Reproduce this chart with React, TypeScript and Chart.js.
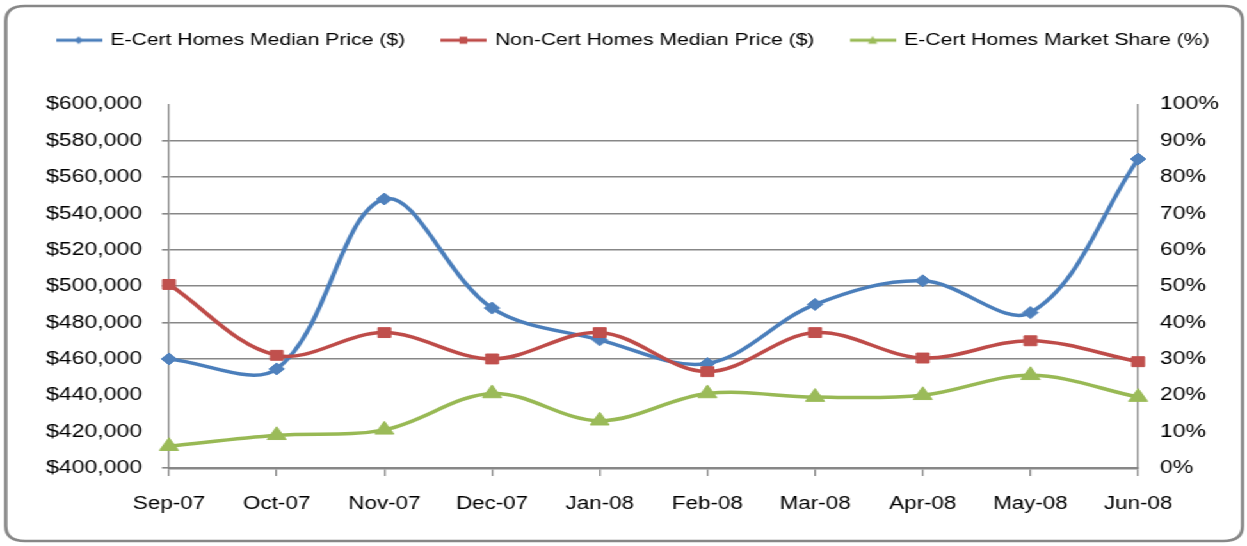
import React, { useEffect, useRef } from 'react';
import { Chart, registerables } from 'chart.js';

Chart.register(...registerables);

// ---- data ----
const categories = ['Sep-07', 'Oct-07', 'Nov-07', 'Dec-07', 'Jan-08', 'Feb-08', 'Mar-08', 'Apr-08', 'May-08', 'Jun-08'];
const eCertMedianPrice = [460000, 454500, 548000, 488000, 470500, 457500, 490000, 503000, 485500, 570000];
const nonCertMedianPrice = [501000, 462000, 474500, 460000, 474500, 453000, 474500, 460500, 470000, 458500];
const eCertMarketShare = [6, 9, 10.5, 20.5, 13, 20.5, 19.5, 20, 25.5, 19.5];
const seriesNames = ['E-Cert Homes Median Price ($)', 'Non-Cert Homes Median Price ($)', 'E-Cert Homes Market Share (%)'];
const priceAxisRange = [400000, 600000, 20000];
const shareAxisRange = [0, 100, 10];
const priceGridHidden = [600000, 440000, 420000];

// ---- styling ----
const W = 974;
const H = 546;
const SX = 1247 / W;
const FONT = "'Liberation Sans', Arial, sans-serif";
const GRID = '#878787';
const BLUE = '#4A7EBB';
const BLUE_FILL = '#4F81BD';
const RED = '#BE4B48';
const RED_FILL = '#C0504D';
const GREEN = '#98B954';
const GREEN_FILL = '#9BBB59';
const LEGEND_PAD = 29;
const LEGEND_START = 45;

function legendIcon(line: string, fill: string, kind: string): HTMLCanvasElement {
  const c = document.createElement('canvas');
  c.width = 36;
  c.height = 14;
  const g = c.getContext('2d')!;
  g.strokeStyle = line;
  g.lineWidth = 3;
  g.beginPath();
  g.moveTo(0, 7);
  g.lineTo(36, 7);
  g.stroke();
  g.fillStyle = fill;
  g.beginPath();
  if (kind === 'diamond') {
    g.moveTo(18, 3);
    g.lineTo(21, 7);
    g.lineTo(18, 11);
    g.lineTo(15, 7);
  } else if (kind === 'square') {
    g.rect(15, 3.5, 6, 7);
  } else {
    g.moveTo(18, 2.5);
    g.lineTo(21.5, 10.5);
    g.lineTo(14.5, 10.5);
  }
  g.closePath();
  g.fill();
  return c;
}

const framePlugin = {
  id: 'frame',
  beforeDraw(chart: any) {
    const ctx = chart.ctx;
    ctx.save();
    ctx.fillStyle = '#ffffff';
    ctx.fillRect(0, 0, chart.width, chart.height);
    const x0 = 4.5, y0 = 6, x1 = 970.5, y1 = 541, r = 15;
    ctx.strokeStyle = '#878787';
    ctx.lineWidth = 2.6;
    ctx.beginPath();
    ctx.moveTo(x0 + r, y0);
    ctx.lineTo(x1 - r, y0);
    ctx.quadraticCurveTo(x1, y0, x1, y0 + r);
    ctx.lineTo(x1, y1 - r);
    ctx.quadraticCurveTo(x1, y1, x1 - r, y1);
    ctx.lineTo(x0 + r, y1);
    ctx.quadraticCurveTo(x0, y1, x0, y1 - r);
    ctx.lineTo(x0, y0 + r);
    ctx.quadraticCurveTo(x0, y0, x0 + r, y0);
    ctx.closePath();
    ctx.stroke();
    ctx.restore();
  },
};

const legendSpacer = {
  id: 'legendSpacer',
  beforeLayout(chart: any) {
    const lg = chart.legend;
    if (lg && !lg.__spaced) {
      const orig = lg.fit;
      lg.fit = function fit() {
        const mw = this.maxWidth;
        this.maxWidth = mw + 400;
        orig.call(this);
        this.maxWidth = mw;
        this.width = mw;
        this.height += 46;
      };
      lg.__spaced = true;
    }
  },
  afterLayout(chart: any) {
    const lg = chart.legend;
    if (!lg || !lg.lineWidths) return;
    const lw = lg.lineWidths[0];
    const right = 3000;
    lg.right = right;
    lg.left = 2 * LEGEND_START - LEGEND_PAD - right + lw;
  },
};

export default function App() {
  const ref = useRef<HTMLCanvasElement | null>(null);

  useEffect(() => {
    if (!ref.current) return;
    const icons = [
      legendIcon(BLUE, BLUE_FILL, 'diamond'),
      legendIcon(RED, RED_FILL, 'square'),
      legendIcon(GREEN, GREEN_FILL, 'triangle'),
    ];
    const chart = new Chart(ref.current, {
      type: 'line',
      data: {
        labels: categories,
        datasets: [
          {
            label: seriesNames[0],
            data: eCertMedianPrice,
            yAxisID: 'y',
            order: 2,
            borderColor: BLUE,
            backgroundColor: BLUE_FILL,
            borderWidth: 3.5,
            tension: 0.35,
            pointStyle: 'rectRot',
            pointRadius: 6,
            pointBorderWidth: 1,
            pointBorderColor: BLUE_FILL,
            pointBackgroundColor: BLUE_FILL,
          },
          {
            label: seriesNames[1],
            data: nonCertMedianPrice,
            yAxisID: 'y',
            order: 1,
            borderColor: RED,
            backgroundColor: RED_FILL,
            borderWidth: 3.5,
            tension: 0.35,
            pointStyle: 'rect',
            pointRadius: 7,
            pointBorderWidth: 1,
            pointBorderColor: RED_FILL,
            pointBackgroundColor: RED_FILL,
          },
          {
            label: seriesNames[2],
            data: eCertMarketShare,
            yAxisID: 'y1',
            order: 0,
            borderColor: GREEN,
            backgroundColor: GREEN_FILL,
            borderWidth: 3.5,
            tension: 0.35,
            pointStyle: 'triangle',
            pointRadius: 8.5,
            pointBorderWidth: 1,
            pointBorderColor: GREEN_FILL,
            pointBackgroundColor: GREEN_FILL,
          },
        ],
      },
      options: {
        responsive: false,
        devicePixelRatio: 1,
        animation: false,
        layout: { padding: { top: 3, left: 20, right: 4, bottom: 0 } },
        plugins: {
          tooltip: { enabled: false },
          legend: {
            display: true,
            position: 'top',
            align: 'center',
            labels: {
              usePointStyle: true,
              pointStyleWidth: 33,
              padding: LEGEND_PAD,
              color: '#000000',
              font: { family: FONT, size: 16.5 },
              generateLabels(chart: any) {
                const items = Chart.defaults.plugins.legend.labels.generateLabels(chart);
                items.sort((a: any, b: any) => a.datasetIndex - b.datasetIndex);
                return items.map((it: any) => ({ ...it, pointStyle: icons[it.datasetIndex] }));
              },
            },
          },
        },
        scales: {
          x: {
            type: 'category',
            offset: false,
            grid: {
              drawOnChartArea: false,
              drawTicks: true,
              tickLength: 8,
              color: GRID,
              lineWidth: 1.3,
            },
            border: { display: true, color: GRID, width: 2.5 },
            ticks: {
              color: '#000000',
              padding: 18,
              maxRotation: 0,
              autoSkip: false,
              font: { family: FONT, size: 17.5 },
            },
            afterFit(s: any) {
              s.height = 78;
            },
          },
          y: {
            type: 'linear',
            position: 'left',
            min: priceAxisRange[0],
            max: priceAxisRange[1],
            grid: {
              color: (c: any) => (c.tick && priceGridHidden.includes(c.tick.value) ? 'rgba(0,0,0,0)' : GRID),
              lineWidth: 1.6,
              drawTicks: true,
              tickLength: 5.5,
            },
            border: { display: true, color: GRID, width: 1.3 },
            ticks: {
              stepSize: priceAxisRange[2],
              color: '#000000',
              padding: 15.5,
              font: { family: FONT, size: 18 },
              callback: (v: any) => '$' + Number(v).toLocaleString('en-US'),
            },
            afterFit(s: any) {
              s.width = 112;
            },
          },
          y1: {
            type: 'linear',
            position: 'right',
            min: shareAxisRange[0],
            max: shareAxisRange[1],
            grid: { display: false, drawTicks: false },
            border: { display: true, color: GRID, width: 1.3 },
            ticks: {
              stepSize: shareAxisRange[2],
              color: '#000000',
              padding: 17,
              font: { family: FONT, size: 18 },
              callback: (v: any) => v + '%',
            },
            afterFit(s: any) {
              s.width = 81;
            },
          },
        },
      },
      plugins: [framePlugin, legendSpacer],
    } as any);
    return () => chart.destroy();
  }, []);

  return (
    <div
      style={{
        position: 'absolute',
        left: 0,
        top: 0,
        width: W,
        height: H,
        transform: `scaleX(${SX})`,
        transformOrigin: '0 0',
        background: '#ffffff',
      }}
    >
      <canvas ref={ref} width={W} height={H} style={{ display: 'block', width: W, height: H }} />
    </div>
  );
}
